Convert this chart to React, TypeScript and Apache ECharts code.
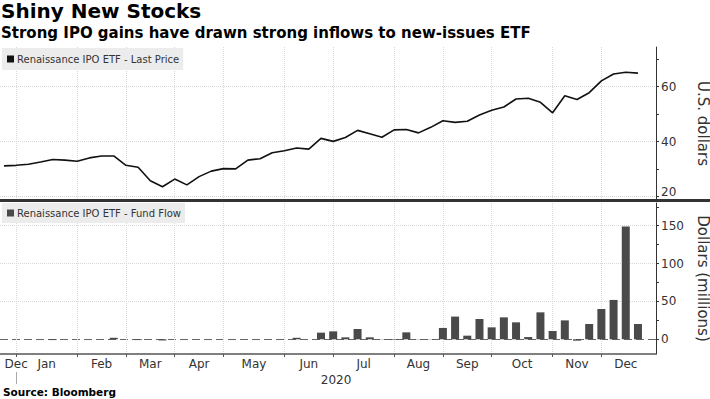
import React, { useEffect, useRef } from 'react';
import * as echarts from 'echarts';

// Weekly observations (Fridays)
const weekDates = [
  '2019-12-27',
  '2020-01-03', '2020-01-10', '2020-01-17', '2020-01-24', '2020-01-31',
  '2020-02-07', '2020-02-14', '2020-02-21', '2020-02-28',
  '2020-03-06', '2020-03-13', '2020-03-20', '2020-03-27',
  '2020-04-03', '2020-04-10', '2020-04-17', '2020-04-24',
  '2020-05-01', '2020-05-08', '2020-05-15', '2020-05-22', '2020-05-29',
  '2020-06-05', '2020-06-12', '2020-06-19', '2020-06-26',
  '2020-07-03', '2020-07-10', '2020-07-17', '2020-07-24', '2020-07-31',
  '2020-08-07', '2020-08-14', '2020-08-21', '2020-08-28',
  '2020-09-04', '2020-09-11', '2020-09-18', '2020-09-25',
  '2020-10-02', '2020-10-09', '2020-10-16', '2020-10-23', '2020-10-30',
  '2020-11-06', '2020-11-13', '2020-11-20', '2020-11-27',
  '2020-12-04', '2020-12-11', '2020-12-18', '2020-12-25',
];

// Renaissance IPO ETF - Last Price (U.S. dollars)
const lastPrice = [
  31.2, 31.4, 31.8, 32.6, 33.5, 33.3, 32.9, 34.1, 34.8, 34.8,
  31.4, 30.7, 25.8, 23.6, 26.4, 24.3, 27.3, 29.3, 30.2, 30.1,
  33.3, 33.8, 36.0, 36.7, 37.7, 37.3, 41.2, 40.1, 41.5, 44.1,
  42.9, 41.6, 44.3, 44.4, 43.2, 45.2, 47.6, 47.0, 47.4, 49.7,
  51.4, 52.6, 55.5, 55.8, 54.3, 50.5, 56.7, 55.3, 57.8, 62.1,
  64.6, 65.2, 64.9,
];

// Renaissance IPO ETF - Fund Flow (Dollars, millions)
const fundFlow = [
  0, 0, 0, 0, -1, 0, 0, 0, 0, 2,
  0, -1, 0, -1.5, 0, 0, 0, 0, 0, 0,
  0, 0, 0, 0, 2, 0, 8.8, 10.5, 2.6, 13.6,
  2.6, 0.3, -0.8, 9.2, 0.3, 0.3, 15, 30, 4.8, 26.8,
  15.8, 29, 22.4, 3, 35.6, 11, 25, -1.8, 20.2, 40,
  52, 149, 20.2,
];

const seriesNames = ['Renaissance IPO ETF - Last Price', 'Renaissance IPO ETF - Fund Flow'];
const monthNames = ['Jan', 'Feb', 'Mar', 'Apr', 'May', 'Jun', 'Jul', 'Aug', 'Sep', 'Oct', 'Nov', 'Dec'];

const priceTickValues = [20, 30, 40, 50, 60, 70];
const priceLabelValues = [20, 40, 60];
const priceGridValues = [20, 40, 60];
const flowTickValues = [0, 25, 50, 75, 100, 125, 150, 175];
const flowLabelValues = [0, 50, 100, 150];
const flowGridValues = [50, 100, 150];
const flowZeroValues = [0];

export default function App() {
  const ref = useRef<HTMLDivElement>(null);

  useEffect(() => {
    if (!ref.current) return;
    const chart = echarts.init(ref.current, null, { renderer: 'svg' });

    const font = '"DejaVu Sans", Verdana, sans-serif';
    const xMin = -0.33;
    const xMax = 53.48;

    // month segments from the weekly dates
    const starts: number[] = [];
    weekDates.forEach((d, i) => {
      if (i === 0 || d.slice(5, 7) !== weekDates[i - 1].slice(5, 7)) starts.push(i);
    });
    const monthTicks = starts.slice(1);
    const labelPos: number[] = [];
    const labelText = new Map<number, string>();
    starts.forEach((s, k) => {
      const e = k + 1 < starts.length ? starts[k + 1] : weekDates.length;
      const pos = k === 0 ? starts[1] : (s + e) / 2;
      labelPos.push(pos);
      labelText.set(pos, monthNames[Number(weekDates[s].slice(5, 7)) - 1]);
    });
    const yearPos = (monthTicks[0] + xMax) / 2;
    const yearText = weekDates[monthTicks[0]].slice(0, 4);

    const gridLine = { show: true, lineStyle: { color: '#d8d8d8', type: 'dotted' as const, width: 1 } };
    const axisColor = '#333';

    const legendBase = {
      orient: 'horizontal' as const,
      icon: 'rect',
      itemWidth: 7,
      itemHeight: 7,
      selectedMode: false,
      backgroundColor: '#ececec',
      textStyle: { fontSize: 10, color: '#333', fontFamily: font, padding: [0, 0, 0, -2] },
    };

    chart.setOption({
      animation: false,
      backgroundColor: '#ffffff',
      textStyle: { fontFamily: font },
      title: [
        { text: 'Shiny New Stocks', left: 1, top: 1, padding: 0, textStyle: { fontSize: 20, fontWeight: 'bold', color: '#000', fontFamily: font } },
        { text: 'Strong IPO gains have drawn strong inflows to new-issues ETF', left: 1, top: 25, padding: 0, textStyle: { fontSize: 15, fontWeight: 'bold', color: '#000', fontFamily: font } },
        { text: 'Source: Bloomberg', left: 3, top: 386, padding: 0, textStyle: { fontSize: 10.5, fontWeight: 'bold', color: '#000', fontFamily: font } },
      ],
      legend: [
        { ...legendBase, data: [seriesNames[0]], left: 2, top: 48, padding: [6, 4, 6, 5] },
        { ...legendBase, data: [seriesNames[1]], left: 2, top: 203, padding: [5, 4, 5, 5] },
      ],
      grid: [
        { left: 0, right: 54, top: 47, height: 153, outerBoundsMode: 'none', containLabel: false },
        { left: 0, right: 54, top: 203, height: 151, outerBoundsMode: 'none', containLabel: false },
      ],
      xAxis: [
        {
          type: 'value', gridIndex: 0, min: xMin, max: xMax,
          axisLine: { show: false, onZero: false },
          axisTick: { show: false, customValues: monthTicks },
          axisLabel: { show: false },
          splitLine: gridLine,
        },
        {
          type: 'value', gridIndex: 1, min: xMin, max: xMax, position: 'bottom',
          axisLine: { show: true, onZero: false, lineStyle: { color: '#555', width: 1.5 } },
          axisTick: { show: true, customValues: monthTicks, length: 3, lineStyle: { color: '#555' } },
          axisLabel: {
            customValues: labelPos,
            formatter: (v: number) => labelText.get(v) ?? '',
            fontSize: 12, color: '#333', margin: 4, fontFamily: font,
          },
          splitLine: gridLine,
        },
        {
          type: 'value', gridIndex: 1, min: xMin, max: xMax, position: 'bottom', offset: 18,
          axisLine: { show: false, onZero: false },
          axisTick: { show: true, customValues: [monthTicks[0]], length: 12, lineStyle: { color: '#aaa' } },
          axisLabel: {
            customValues: [yearPos],
            formatter: () => yearText,
            fontSize: 12, color: '#333', margin: 2, fontFamily: font,
          },
          splitLine: { show: false },
        },
      ],
      yAxis: [
        {
          type: 'value', gridIndex: 0, position: 'right', min: 18.8, max: 74.4,
          axisLine: { show: true, onZero: false, lineStyle: { color: axisColor, width: 1 } },
          axisTick: { show: true, customValues: priceTickValues, length: 3, lineStyle: { color: axisColor } },
          axisLabel: {
            customValues: priceLabelValues,
            formatter: (v: number) => (v === priceLabelValues[0] ? `{lift|${v}}` : String(v)),
            rich: { lift: { padding: [0, 0, 9, 0], fontSize: 12, color: '#333', fontFamily: font } },
            fontSize: 12, color: '#333', margin: 5, fontFamily: font,
          },
          splitLine: { show: false },
          name: 'U.S. dollars', nameLocation: 'middle', nameRotate: -90, nameGap: 39,
          nameTextStyle: { fontSize: 15, color: '#333', fontFamily: font },
        },
        {
          type: 'value', gridIndex: 0, position: 'right', min: 18.8, max: 74.4,
          axisLine: { show: false, onZero: false },
          axisTick: { show: false, customValues: priceGridValues },
          axisLabel: { show: false },
          splitLine: gridLine,
        },
        {
          type: 'value', gridIndex: 1, position: 'right', min: -19.4, max: 180,
          axisLine: { show: true, onZero: false, lineStyle: { color: axisColor, width: 1 } },
          axisTick: { show: true, customValues: flowTickValues, length: 3, lineStyle: { color: axisColor } },
          axisLabel: { customValues: flowLabelValues, fontSize: 12, color: '#333', margin: 5, fontFamily: font },
          splitLine: { show: false },
          name: 'Dollars (millions)', nameLocation: 'middle', nameRotate: -90, nameGap: 39,
          nameTextStyle: { fontSize: 15, color: '#333', fontFamily: font },
        },
        {
          type: 'value', gridIndex: 1, position: 'right', min: -19.4, max: 180,
          axisLine: { show: false, onZero: false },
          axisTick: { show: false, customValues: flowGridValues },
          axisLabel: { show: false },
          splitLine: gridLine,
        },
        {
          type: 'value', gridIndex: 1, position: 'right', min: -19.4, max: 180,
          axisLine: { show: false, onZero: false },
          axisTick: { show: false, customValues: flowZeroValues },
          axisLabel: { show: false },
          splitLine: { show: true, lineStyle: { color: '#666', type: [8, 4], width: 1 } },
        },
      ],
      series: [
        {
          type: 'line', name: seriesNames[0], xAxisIndex: 0, yAxisIndex: 0,
          data: lastPrice.map((v, i) => [i, v]),
          symbol: 'none', color: '#111',
          lineStyle: { color: '#111', width: 1.6 },
          itemStyle: { color: '#111' },
        },
        {
          type: 'bar', name: seriesNames[1], xAxisIndex: 1, yAxisIndex: 2,
          data: fundFlow.map((v, i) => [i, v]),
          barWidth: 8, color: '#4a4a4a',
          itemStyle: { color: '#4a4a4a' },
        },
      ],
      graphic: [
        { type: 'rect', left: 0, top: 199, shape: { width: 710, height: 3 }, style: { fill: '#333' }, z: 100 },
      ],
    });

    return () => chart.dispose();
  }, []);

  return <div ref={ref} style={{ position: 'fixed', left: 0, top: 0, width: 710, height: 399 }} />;
}
